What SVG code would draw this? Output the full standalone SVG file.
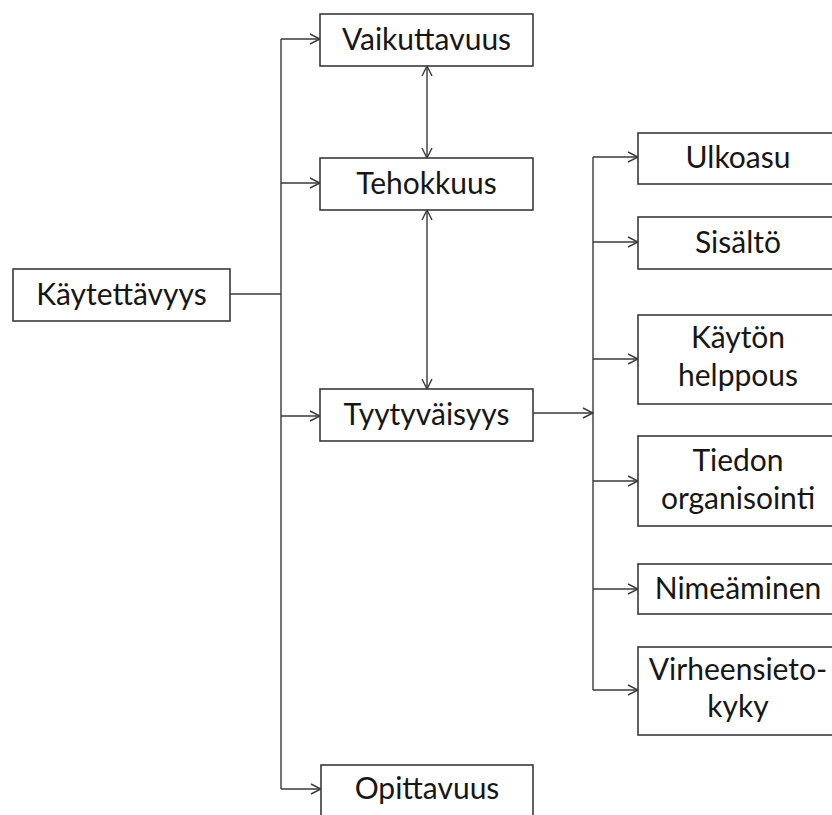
<svg xmlns="http://www.w3.org/2000/svg" width="832" height="815" viewBox="0 0 832 815">
<style>
.box{fill:#fff;stroke:#3a3a3a;stroke-width:1.6}
.t{font-family:Lato,"Liberation Sans",sans-serif;font-size:30px;fill:#161616;text-anchor:middle}
.c{fill:none;stroke:#3a3a3a;stroke-width:1.4}
</style>
<defs>
<marker id="ah" markerUnits="userSpaceOnUse" markerWidth="12" markerHeight="12" viewBox="0 0 12 12" refX="11" refY="6" orient="auto-start-reverse">
<path d="M1,1 L11,6 L1,11" fill="none" stroke="#3a3a3a" stroke-width="1.4"/>
</marker>
</defs>
<rect width="832" height="815" fill="#fff"/>
<g id="connectors">
<path class="c" d="M230,294 H281"/>
<path class="c" d="M281,39 V789"/>
<path class="c" d="M281,39 H320" marker-end="url(#ah)"/>
<path class="c" d="M281,183 H320" marker-end="url(#ah)"/>
<path class="c" d="M281,416 H320" marker-end="url(#ah)"/>
<path class="c" d="M281,789 H321" marker-end="url(#ah)"/>
<path class="c" d="M427,66 V158" marker-start="url(#ah)" marker-end="url(#ah)"/>
<path class="c" d="M427,210 V389" marker-start="url(#ah)" marker-end="url(#ah)"/>
<path class="c" d="M533,413 H593" marker-end="url(#ah)"/>
<path class="c" d="M593,157 V690"/>
<path class="c" d="M593,157 H638" marker-end="url(#ah)"/>
<path class="c" d="M593,242 H638" marker-end="url(#ah)"/>
<path class="c" d="M593,359 H638" marker-end="url(#ah)"/>
<path class="c" d="M593,481 H638" marker-end="url(#ah)"/>
<path class="c" d="M593,589 H638" marker-end="url(#ah)"/>
<path class="c" d="M593,690 H638" marker-end="url(#ah)"/>
</g>
<g id="kaytettavyys"><rect class="box" x="13" y="269" width="217" height="52"/><text class="t" x="121.5" y="305">Käytettävyys</text></g>
<g id="vaikuttavuus"><rect class="box" x="320" y="14" width="213" height="52"/><text class="t" x="426.5" y="50">Vaikuttavuus</text></g>
<g id="tehokkuus"><rect class="box" x="320" y="158" width="213" height="52"/><text class="t" x="426.5" y="194">Tehokkuus</text></g>
<g id="tyytyvaisyys"><rect class="box" x="320" y="389" width="213" height="52"/><text class="t" x="426.5" y="425">Tyytyväisyys</text></g>
<g id="opittavuus"><rect class="box" x="321" y="765" width="212" height="60"/><text class="t" x="427" y="799">Opittavuus</text></g>
<g id="ulkoasu"><rect class="box" x="638" y="133" width="200" height="51"/><text class="t" x="738" y="168">Ulkoasu</text></g>
<g id="sisalto"><rect class="box" x="638" y="217" width="200" height="52"/><text class="t" x="738" y="253">Sisältö</text></g>
<g id="kayton-helppous"><rect class="box" x="638" y="315" width="200" height="89"/><text class="t" x="738" y="348">Käytön</text><text class="t" x="738" y="386">helppous</text></g>
<g id="tiedon-organisointi"><rect class="box" x="638" y="436" width="200" height="90"/><text class="t" x="738" y="471">Tiedon</text><text class="t" x="738" y="509">organisointi</text></g>
<g id="nimeaminen"><rect class="box" x="638" y="564" width="200" height="50"/><text class="t" x="738" y="599">Nimeäminen</text></g>
<g id="virheensietokyky"><rect class="box" x="638" y="647" width="200" height="88"/><text class="t" x="738" y="680">Virheensieto-</text><text class="t" x="738" y="717">kyky</text></g>
</svg>
